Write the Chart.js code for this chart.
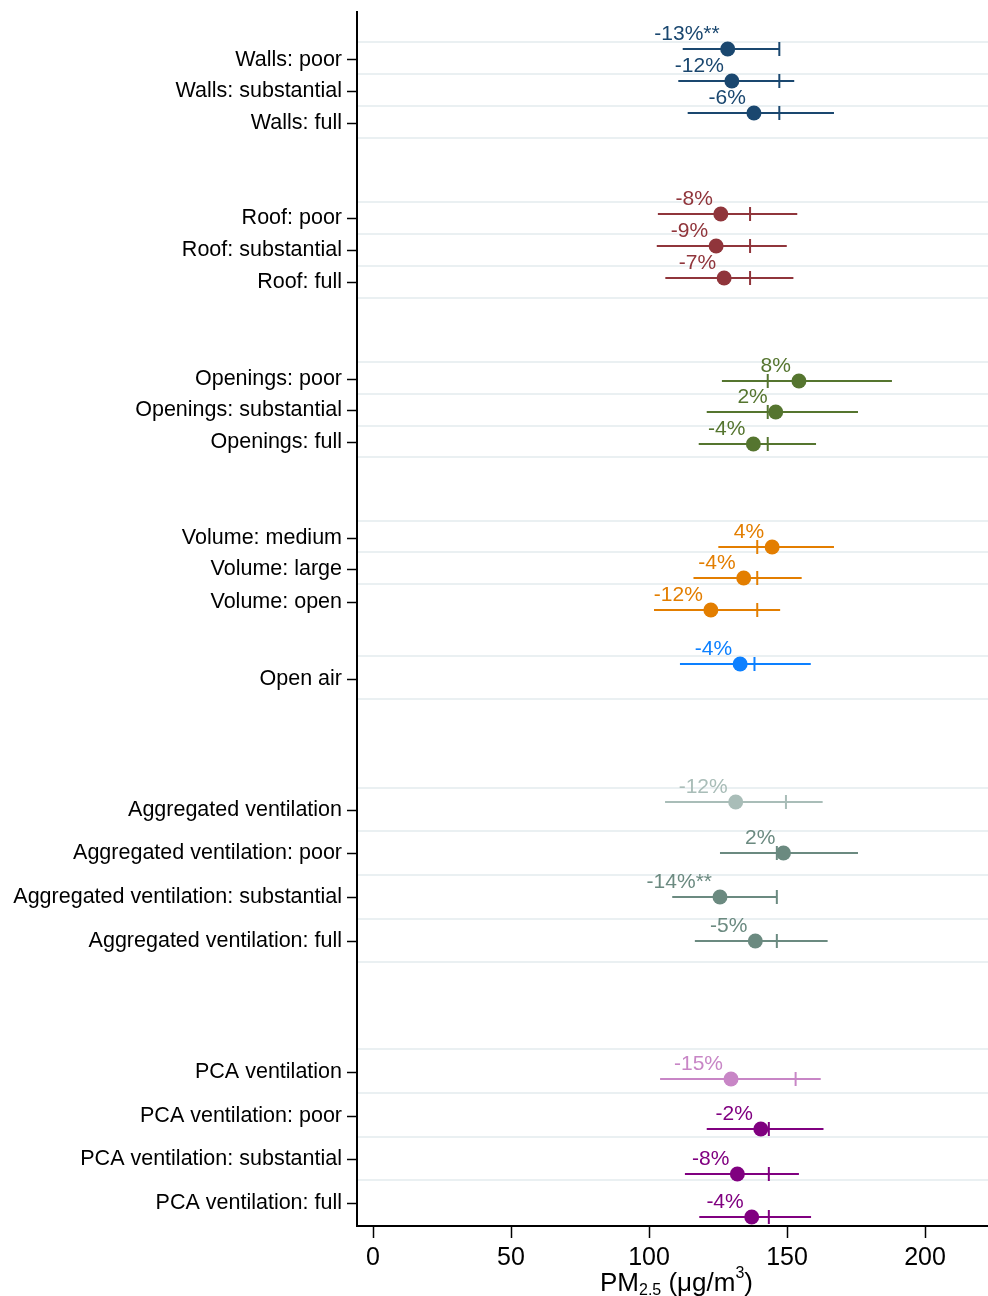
<!DOCTYPE html>
<html>
<head>
<meta charset="utf-8">
<script src="https://cdn.jsdelivr.net/npm/chart.js@4.4.0/dist/chart.umd.min.js"></script>
<style>
  html, body { margin: 0; padding: 0; background: #fff; }
  #wrap { width: 988px; height: 1296px; }
</style>
</head>
<body>
<div id="wrap"><canvas id="chart" width="988" height="1296"></canvas></div>
<script>
  // rows, top to bottom
  const rowLabels = [
    "Walls: poor", "Walls: substantial", "Walls: full",
    "Roof: poor", "Roof: substantial", "Roof: full",
    "Openings: poor", "Openings: substantial", "Openings: full",
    "Volume: medium", "Volume: large", "Volume: open",
    "Open air",
    "Aggregated ventilation", "Aggregated ventilation: poor",
    "Aggregated ventilation: substantial", "Aggregated ventilation: full",
    "PCA ventilation", "PCA ventilation: poor",
    "PCA ventilation: substantial", "PCA ventilation: full"
  ];
  const rowGroup = [
    "walls", "walls", "walls",
    "roof", "roof", "roof",
    "openings", "openings", "openings",
    "volume", "volume", "volume",
    "openAir",
    "aggAll", "agg", "agg", "agg",
    "pcaAll", "pca", "pca", "pca"
  ];
  const estimate = [128.5, 130.0, 138.0, 126.0, 124.3, 127.2, 154.3, 145.9, 137.8,
    144.6, 134.3, 122.4, 133.0, 131.4, 148.7, 125.7, 138.5, 129.7, 140.5, 132.0, 137.2];
  const ciLow = [112.2, 110.6, 114.0, 103.2, 102.8, 105.9, 126.4, 120.9, 118.0,
    125.1, 116.1, 101.8, 111.2, 105.8, 125.7, 108.4, 116.6, 104.0, 120.9, 113.0, 118.2];
  const ciHigh = [147.2, 152.6, 167.0, 153.7, 149.9, 152.3, 188.0, 175.7, 160.5,
    167.0, 155.3, 147.5, 158.6, 162.9, 175.7, 146.3, 164.7, 162.2, 163.2, 154.3, 158.7];
  const reference = [147.2, 147.2, 147.2, 136.6, 136.6, 136.6, 143.0, 143.0, 143.0,
    139.2, 139.2, 139.2, 138.2, 149.6, 146.3, 146.3, 146.3, 153.1, 143.4, 143.4, 143.4];
  const pctLabels = ["-13%**", "-12%", "-6%", "-8%", "-9%", "-7%", "8%", "2%", "-4%",
    "4%", "-4%", "-12%", "-4%", "-12%", "2%", "-14%**", "-5%", "-15%", "-2%", "-8%", "-4%"];
  const xTicks = [0, 50, 100, 150, 200];

  // layout: vertical slots on the row axis (top = 12, bottom = 1226)
  const tickSlot = [60, 91, 123, 218, 250, 282, 379, 410, 442, 538, 569, 602, 679,
    810, 853, 897, 941, 1072, 1116, 1159, 1203];
  const markSlot = [49, 81, 113, 214, 246, 278, 381, 412, 444, 547, 578, 610, 664,
    802, 853, 897, 941, 1079, 1129, 1174, 1217];
  const gridSlot = [42, 74, 106, 138, 202, 234, 266, 298, 362, 394, 426, 457,
    521, 552, 584, 656, 699, 788, 831, 875, 919, 962, 1049, 1093, 1137, 1180];

  const groupColors = {
    walls: "#1a476f", roof: "#90353b", openings: "#55752f", volume: "#e37e00",
    openAir: "#0d80ff", aggAll: "#a9bdb8", agg: "#6b8a80", pcaAll: "#c886c6", pca: "#800080"
  };
  const rowColor = rowGroup.map(g => groupColors[g]);
  const FONT = "'Liberation Sans', Arial, sans-serif";

  // chart.js reserves room for edge labels; this plot doesn't want that
  function noPad(s) {
    s.paddingTop = 0; s.paddingBottom = 0; s.paddingLeft = 0; s.paddingRight = 0;
  }

  const ciSets = rowLabels.map((lab, i) => ({
    type: "line",
    label: lab,
    data: [{ x: ciLow[i], y: markSlot[i] }, { x: ciHigh[i], y: markSlot[i] }],
    borderColor: rowColor[i],
    borderWidth: 2,
    pointRadius: 0,
    order: 2
  }));

  const refSet = {
    type: "scatter",
    label: "reference",
    data: reference.map((v, i) => ({ x: v, y: markSlot[i] })),
    pointStyle: "line",
    rotation: 90,
    pointRadius: 7,
    pointBorderWidth: 2,
    pointBorderColor: rowColor,
    borderColor: rowColor,
    order: 1
  };

  const estSet = {
    type: "scatter",
    label: "estimate",
    data: estimate.map((v, i) => ({ x: v, y: markSlot[i] })),
    pointRadius: 7.5,
    pointBorderWidth: 0,
    pointBackgroundColor: rowColor,
    order: 0
  };

  const pctLabelPlugin = {
    id: "pctLabels",
    afterDatasetsDraw(chart) {
      const { ctx, scales } = chart;
      ctx.save();
      ctx.font = "21px " + FONT;
      ctx.textAlign = "right";
      ctx.textBaseline = "alphabetic";
      pctLabels.forEach((t, i) => {
        const px = scales.x.getPixelForValue(estimate[i]);
        const py = scales.y.getPixelForValue(markSlot[i]);
        ctx.fillStyle = rowColor[i];
        ctx.fillText(t, px - 8, py - 9.5);
      });
      ctx.restore();
    }
  };

  // axis title with subscript and superscript
  const xTitlePlugin = {
    id: "xTitle",
    afterDraw(chart) {
      const { ctx, chartArea } = chart;
      const parts = [
        { t: "PM", size: 26, dy: 0 },
        { t: "2.5", size: 16, dy: 4 },
        { t: " (\u03bcg/m", size: 26, dy: 0 },
        { t: "3", size: 16, dy: -13 },
        { t: ")", size: 26, dy: 0 }
      ];
      ctx.save();
      ctx.fillStyle = "#000";
      ctx.textBaseline = "alphabetic";
      ctx.textAlign = "left";
      let total = 0;
      parts.forEach(p => { ctx.font = p.size + "px " + FONT; p.w = ctx.measureText(p.t).width; total += p.w; });
      let x = (chartArea.left + chartArea.right) / 2 - total / 2 + 4;
      const base = 1291;
      parts.forEach(p => {
        ctx.font = p.size + "px " + FONT;
        ctx.fillText(p.t, x, base + p.dy);
        x += p.w;
      });
      ctx.restore();
    }
  };

  new Chart(document.getElementById("chart"), {
    data: { datasets: [...ciSets, refSet, estSet] },
    options: {
      responsive: false,
      devicePixelRatio: 1,
      animation: false,
      layout: { autoPadding: false, padding: { top: 12, left: 0, right: 0, bottom: 0 } },
      plugins: { legend: { display: false }, tooltip: { enabled: false } },
      scales: {
        x: {
          type: "linear",
          min: -5.8,
          max: 222.8,
          afterBuildTicks: s => { s.ticks = xTicks.map(v => ({ value: v })); },
          afterFit: s => { s.height = 70; noPad(s); },
          ticks: { autoSkip: false, maxRotation: 0, color: "#000", padding: 5, font: { family: FONT, size: 25 } },
          grid: { drawOnChartArea: false, drawTicks: true, tickLength: 12, tickColor: "#000", tickWidth: 1.5 },
          border: { display: true, color: "#000", width: 2 }
        },
        y: {
          type: "linear",
          min: 12,
          max: 1226,
          reverse: true,
          afterBuildTicks: s => { s.ticks = tickSlot.map(v => ({ value: v })); },
          afterFit: s => { s.width = 357; noPad(s); },
          ticks: {
            autoSkip: false,
            color: "#000",
            padding: 5,
            font: { family: FONT, size: 21.5 },
            callback: (v, i) => rowLabels[i]
          },
          grid: { drawOnChartArea: false, drawTicks: true, tickLength: 10, tickColor: "#000", tickWidth: 1.5 },
          border: { display: true, color: "#000", width: 2 }
        },
        yGrid: {
          type: "linear",
          position: "right",
          min: 12,
          max: 1226,
          reverse: true,
          afterBuildTicks: s => { s.ticks = gridSlot.map(v => ({ value: v })); },
          afterFit: s => { s.width = 0; noPad(s); },
          ticks: { display: false },
          grid: { color: "#eaf0f2", lineWidth: 2, drawTicks: false },
          border: { display: false }
        }
      }
    },
    plugins: [pctLabelPlugin, xTitlePlugin]
  });
</script>
</body>
</html>
